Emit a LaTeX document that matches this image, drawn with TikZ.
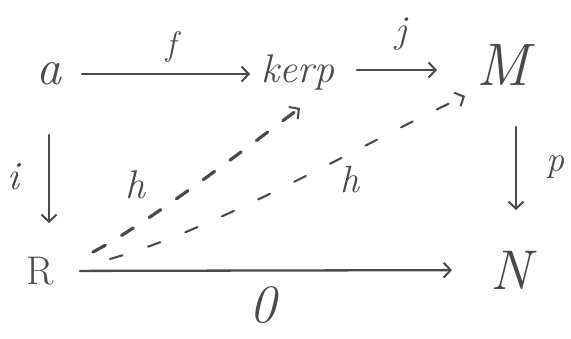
\documentclass[tikz,border=0pt]{standalone}
\usetikzlibrary{arrows.meta}
\definecolor{ink}{HTML}{4A4A4A}
\begin{document}
\begin{tikzpicture}[x=1pt,y=-1pt,
  ink/.style={draw=ink,line width=2.3pt,line cap=round},
  arr/.style={ink,-{Straight Barb[length=7pt,width=15pt,line width=2pt]}},
  obj/.style={text=ink,inner sep=0pt,font=\fontsize{#1}{#1}\selectfont\itshape},
  lbl/.style={text=ink,inner sep=0pt,font=\fontsize{#1}{#1}\selectfont\itshape}]
\useasboundingbox (0,0) rectangle (571,338);
% objects
\node[obj=50] (a) at (49,74) {a};
\node[obj=40] (kerp) at (298,72) {kerp};
\node[obj=60] (M) at (503,65) {M};
\node[obj=40,font=\fontsize{40}{40}\selectfont] (R) at (40,271) {R};
\node[obj=56] (N) at (511,270) {N};
% labels
\node[lbl=34] (f) at (171,47) {f};
\node[lbl=38] (j) at (401,34) {j};
\node[lbl=40] (i) at (13,177) {i};
\node[lbl=36] (p) at (555,167) {p};
\node[lbl=40] (h1) at (135,185) {h};
\node[lbl=38] (h2) at (350,180) {h};
\node[lbl=54] (zero) at (263,305) {0};
% horizontal / vertical maps
\draw[arr,shorten <=33pt,shorten >=48pt] (a.center) -- (a.center -| kerp.center);
\draw[arr,shorten <=59pt,shorten >=66pt] ([yshift=2pt]kerp.center) -- ([yshift=2pt]kerp.center -| M.center);
\draw[arr,shorten <=61pt,shorten >=48pt] (a.center) -- (a.center |- R.center);
\draw[arr,shorten <=62pt,shorten >=60pt] ([xshift=13pt]M.center) -- ([xshift=13pt]M.center |- N.center);
\draw[arr,shorten <=40pt,shorten >=59pt] (R.center) -- (N.center);
% dashed lifts
\draw[arr,line width=3.2pt,dash pattern=on 14pt off 19pt]
  ([shift={(53,-19)}]R.center) .. controls (150,222) and (250,145) .. ([shift={(2,36)}]kerp.center);
\draw[arr,line width=2.1pt,dash pattern=on 13pt off 27pt]
  ([shift={(70,-12)}]R.center) .. controls (220,228) and (370,140) .. ([shift={(-38,31)}]M.center);
\end{tikzpicture}
\end{document}
